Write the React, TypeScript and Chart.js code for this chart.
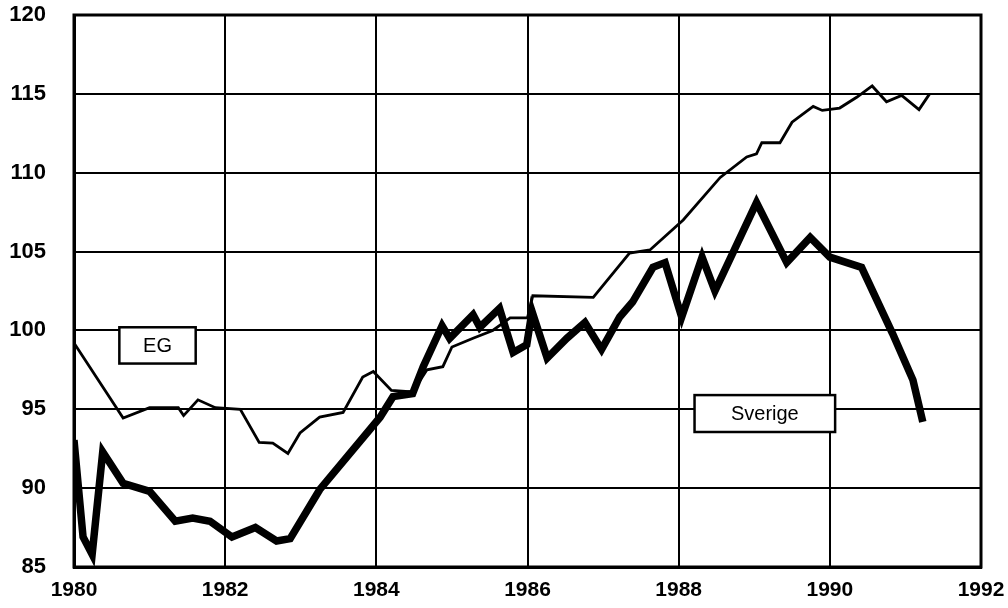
import React, { useEffect, useRef } from "react";
import { Chart, registerables } from "chart.js";

Chart.register(...registerables);

// EG (thin line)
const egX = [1980.0, 1980.65, 1981.0, 1981.38, 1981.45, 1981.64, 1981.87, 1982.2, 1982.45, 1982.63, 1982.83, 1982.99, 1983.25, 1983.56, 1983.82, 1983.96, 1984.2, 1984.48, 1984.67, 1984.88, 1985.0, 1985.28, 1985.54, 1985.77, 1986.0, 1986.07, 1986.87, 1987.35, 1987.62, 1988.06, 1988.55, 1988.9, 1989.03, 1989.1, 1989.34, 1989.5, 1989.78, 1989.9, 1990.13, 1990.36, 1990.56, 1990.75, 1990.95, 1991.18, 1991.32];
const egY = [99.2, 94.45, 95.1, 95.1, 94.6, 95.6, 95.1, 95.0, 92.9, 92.85, 92.2, 93.5, 94.5, 94.8, 97.05, 97.4, 96.2, 96.1, 97.5, 97.7, 98.95, 99.5, 100.0, 100.8, 100.8, 102.2, 102.1, 104.9, 105.1, 107.0, 109.7, 111.0, 111.2, 111.9, 111.9, 113.2, 114.2, 113.95, 114.1, 114.8, 115.5, 114.5, 114.9, 114.0, 115.0];

// Sverige (thick line)
const seX = [1980.0, 1980.12, 1980.24, 1980.38, 1980.65, 1981.0, 1981.34, 1981.57, 1981.8, 1982.09, 1982.4, 1982.68, 1982.86, 1983.25, 1984.05, 1984.22, 1984.48, 1984.62, 1984.87, 1984.97, 1985.28, 1985.37, 1985.63, 1985.81, 1985.99, 1986.06, 1986.26, 1986.52, 1986.76, 1986.98, 1987.22, 1987.39, 1987.66, 1987.82, 1988.04, 1988.31, 1988.48, 1989.03, 1989.43, 1989.74, 1990.0, 1990.42, 1990.83, 1991.1, 1991.23];
const seY = [93.05, 86.9, 85.8, 92.3, 90.3, 89.8, 87.9, 88.1, 87.9, 86.9, 87.5, 86.65, 86.8, 89.9, 94.5, 95.8, 96.0, 97.7, 100.3, 99.5, 101.0, 100.2, 101.4, 98.6, 99.1, 101.2, 98.25, 99.5, 100.5, 98.8, 100.85, 101.8, 104.0, 104.3, 100.85, 104.65, 102.5, 108.1, 104.3, 105.9, 104.65, 104.0, 99.8, 96.85, 94.2];

const xTicks = [1980, 1982, 1984, 1986, 1988, 1990, 1992];
const yTicks = [85, 90, 95, 100, 105, 110, 115, 120];

const labelBoxes = [
  { text: "EG", x0: 1980.6, x1: 1981.61, y0: 100.2, y1: 97.9 },
  { text: "Sverige", x0: 1988.21, x1: 1990.07, y0: 95.9, y1: 93.56 },
];

const FONT = "'Liberation Sans', Arial, sans-serif";

export default function App() {
  const ref = useRef<HTMLCanvasElement>(null);
  useEffect(() => {
    if (!ref.current) return;
    const framePlugin = {
      id: "frameAndLabels",
      afterDatasetsDraw(chart: any) {
        const { ctx, chartArea, scales } = chart;
        ctx.save();
        ctx.strokeStyle = "#000";
        ctx.lineWidth = 3;
        ctx.strokeRect(chartArea.left, chartArea.top, chartArea.right - chartArea.left, chartArea.bottom - chartArea.top);
        for (const b of labelBoxes) {
          const x0 = scales.x.getPixelForValue(b.x0);
          const x1 = scales.x.getPixelForValue(b.x1);
          const y0 = scales.y.getPixelForValue(b.y0);
          const y1 = scales.y.getPixelForValue(b.y1);
          ctx.fillStyle = "#fff";
          ctx.fillRect(x0, y0, x1 - x0, y1 - y0);
          ctx.lineWidth = 2.5;
          ctx.strokeRect(x0, y0, x1 - x0, y1 - y0);
          ctx.fillStyle = "#000";
          ctx.font = `20px ${FONT}`;
          ctx.textAlign = "center";
          ctx.textBaseline = "middle";
          ctx.fillText(b.text, (x0 + x1) / 2, (y0 + y1) / 2 + 1);
        }
        ctx.restore();
      },
    };
    const chart = new Chart(ref.current, {
      type: "line",
      data: {
        datasets: [
          {
            label: "EG",
            data: egX.map((x, i) => ({ x, y: egY[i] })),
            borderColor: "#000",
            borderWidth: 2.8,
            pointRadius: 0,
            tension: 0,
          },
          {
            label: "Sverige",
            data: seX.map((x, i) => ({ x, y: seY[i] })),
            borderColor: "#000",
            borderWidth: 7.5,
            pointRadius: 0,
            tension: 0,
          },
        ],
      },
      options: {
        animation: false,
        responsive: true,
        maintainAspectRatio: false,
        layout: { padding: { top: 15, right: 27, left: 0, bottom: 0 } },
        plugins: { legend: { display: false }, tooltip: { enabled: false } },
        scales: {
          x: {
            type: "linear",
            min: 1980,
            max: 1992,
            afterBuildTicks: (s: any) => { s.ticks = xTicks.map((v) => ({ value: v })); },
            afterFit: (s: any) => {
              s.height = 41;
              s.paddingLeft = 0; s.paddingRight = 0; s.paddingTop = 0; s.paddingBottom = 0;
            },
            grid: { color: "#000", lineWidth: 2, drawTicks: false },
            border: { display: true, color: "#000", width: 3 },
            ticks: {
              color: "#000",
              padding: 11,
              font: { family: FONT, size: 21, weight: "bold" },
              callback: (v: any) => String(v),
              maxRotation: 0,
            },
          },
          y: {
            min: 85,
            max: 120,
            afterBuildTicks: (s: any) => { s.ticks = yTicks.map((v) => ({ value: v })); },
            afterFit: (s: any) => {
              s.width = 74;
              s.paddingLeft = 0; s.paddingRight = 0; s.paddingTop = 0; s.paddingBottom = 0;
            },
            grid: { color: "#000", lineWidth: 2, drawTicks: false },
            border: { display: true, color: "#000", width: 3 },
            ticks: {
              color: "#000",
              padding: 28,
              font: { family: FONT, size: 22, weight: "bold" },
              callback: (v: any) => String(v),
            },
          },
        },
      },
      plugins: [framePlugin],
    } as any);
    return () => chart.destroy();
  }, []);
  return (
    <div style={{ position: "fixed", left: 0, top: 0, width: 1008, height: 608, background: "#fff" }}>
      <canvas ref={ref} />
    </div>
  );
}
